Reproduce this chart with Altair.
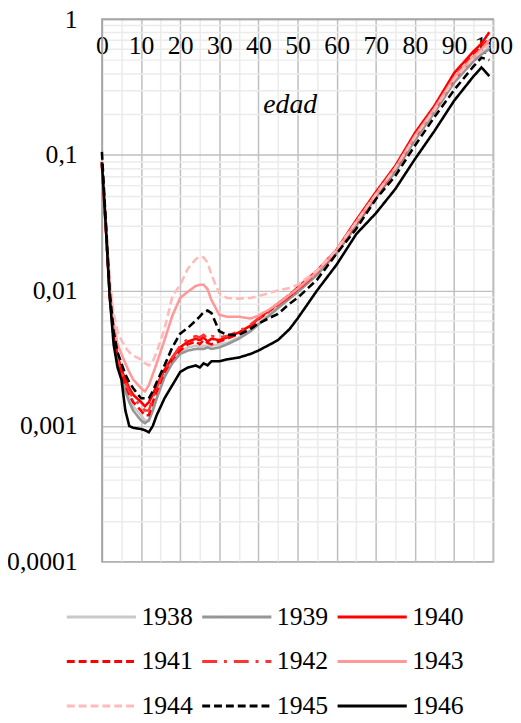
import altair as alt
import pandas as pd

ages = [0, 1, 2, 3, 4, 5, 6, 7, 8, 10, 11, 12, 13, 14, 16, 18, 20, 22, 24, 25, 26, 27, 28,
        30, 32, 35, 38, 40, 43, 45, 48, 50, 55, 60, 65, 70, 75, 80, 85, 90, 95, 97, 99]

q1938 = [0.090, 0.031, 0.0098, 0.0048, 0.0031, 0.0024, 0.0019, 0.0016, 0.0014, 0.0012, 0.0011, 0.0011,
         0.0013, 0.0016, 0.0023, 0.0030, 0.0035, 0.0038, 0.0039, 0.0038, 0.0039, 0.0039, 0.0039,
         0.0040, 0.0041, 0.0045, 0.0051, 0.0057, 0.0067, 0.0075, 0.0088, 0.0098, 0.0132, 0.019,
         0.030, 0.049, 0.076, 0.130, 0.21, 0.35, 0.50, 0.56, 0.62]
q1939 = [0.087, 0.030, 0.0094, 0.0046, 0.0030, 0.0023, 0.0018, 0.0015, 0.0013, 0.0011, 0.00105, 0.0011,
         0.0013, 0.0016, 0.0023, 0.0029, 0.0034, 0.0036, 0.0037, 0.0037, 0.0037, 0.0038, 0.0037,
         0.0038, 0.0040, 0.0044, 0.0050, 0.0056, 0.0066, 0.0074, 0.0087, 0.0097, 0.0130, 0.0188,
         0.030, 0.048, 0.075, 0.128, 0.205, 0.34, 0.49, 0.55, 0.60]
q1940 = [0.088, 0.030, 0.0095, 0.0050, 0.0033, 0.0026, 0.0022, 0.0019, 0.0017, 0.0015, 0.0014, 0.0015,
         0.0017, 0.0020, 0.0026, 0.0032, 0.0038, 0.0042, 0.0044, 0.0043, 0.0045, 0.0042, 0.0044,
         0.0043, 0.0045, 0.0049, 0.0055, 0.0062, 0.0072, 0.0080, 0.0093, 0.0105, 0.0140, 0.020,
         0.033, 0.053, 0.083, 0.145, 0.23, 0.40, 0.58, 0.66, 0.80]
q1941 = [0.085, 0.029, 0.0090, 0.0045, 0.0030, 0.0024, 0.0020, 0.0017, 0.0015, 0.0013, 0.0012, 0.0012,
         0.0015, 0.0018, 0.0025, 0.0031, 0.0036, 0.0040, 0.0042, 0.0040, 0.0043, 0.0041, 0.0040,
         0.0042, 0.0044, 0.0048, 0.0054, 0.0061, 0.0071, 0.0079, 0.0091, 0.0102, 0.0138, 0.0195,
         0.032, 0.051, 0.080, 0.138, 0.22, 0.37, 0.55, 0.62, 0.72]
q1942 = [0.086, 0.029, 0.0092, 0.0047, 0.0031, 0.0025, 0.0021, 0.0018, 0.0016, 0.0014, 0.0013, 0.0013,
         0.0016, 0.0019, 0.0026, 0.0032, 0.0039, 0.0044, 0.0046, 0.0045, 0.0047, 0.0044, 0.0046,
         0.0045, 0.0046, 0.0050, 0.0056, 0.0062, 0.0071, 0.0078, 0.0090, 0.0100, 0.0135, 0.0195,
         0.031, 0.050, 0.078, 0.135, 0.215, 0.36, 0.53, 0.60, 0.68]
q1943 = [0.088, 0.032, 0.0110, 0.0058, 0.0040, 0.0034, 0.0029, 0.0025, 0.0022, 0.0019, 0.0018, 0.0020,
         0.0024, 0.0029, 0.0043, 0.0065, 0.0088, 0.0098, 0.0108, 0.0110, 0.0110, 0.0102, 0.0085,
         0.0066, 0.0064, 0.0064, 0.0062, 0.0065, 0.0073, 0.0080, 0.0093, 0.0103, 0.0138, 0.0198,
         0.032, 0.051, 0.080, 0.138, 0.22, 0.37, 0.53, 0.60, 0.70]
q1944 = [0.090, 0.033, 0.0120, 0.0068, 0.0050, 0.0043, 0.0038, 0.0035, 0.0033, 0.0031, 0.0029, 0.0028,
         0.0030, 0.0035, 0.0052, 0.0090, 0.0110, 0.0145, 0.0170, 0.0178, 0.0175, 0.0160, 0.0130,
         0.0095, 0.0088, 0.0087, 0.0088, 0.0091, 0.0096, 0.0100, 0.0104, 0.0110, 0.0140, 0.020,
         0.032, 0.051, 0.080, 0.135, 0.215, 0.36, 0.52, 0.58, 0.65]
q1945 = [0.105, 0.032, 0.0098, 0.0050, 0.0035, 0.0029, 0.0024, 0.0021, 0.0019, 0.0016, 0.0016, 0.0016,
         0.0018, 0.0021, 0.0028, 0.0038, 0.0048, 0.0053, 0.0060, 0.0064, 0.0069, 0.0071, 0.0068,
         0.0050, 0.0047, 0.0047, 0.0052, 0.0057, 0.0063, 0.0067, 0.0080, 0.0088, 0.0120, 0.0187,
         0.0285, 0.047, 0.070, 0.117, 0.19, 0.30, 0.45, 0.52, 0.50]
q1946 = [0.088, 0.030, 0.0090, 0.0040, 0.0027, 0.0022, 0.0013, 0.0010, 0.00097, 0.00095, 0.00093, 0.0009,
         0.0010, 0.0012, 0.0016, 0.0020, 0.0025, 0.0027, 0.0028, 0.0027, 0.0029, 0.0028, 0.0030,
         0.0030, 0.0031, 0.0032, 0.0034, 0.0036, 0.0040, 0.0043, 0.0052, 0.0062, 0.0100, 0.0155,
         0.026, 0.037, 0.056, 0.093, 0.15, 0.25, 0.38, 0.44, 0.38]

years = ["1938", "1939", "1940", "1941", "1942", "1943", "1944", "1945", "1946"]
series = [q1938, q1939, q1940, q1941, q1942, q1943, q1944, q1945, q1946]
colors = ["#C8C8C8", "#969696", "#FF0000", "#FF0000", "#FF3333", "#FF9999", "#FFBBBB", "#000000", "#000000"]
dashes = [[1, 0], [1, 0], [1, 0], [8, 4], [15, 7, 3, 7], [1, 0], [8, 4], [8, 4], [1, 0]]

x_major = [0, 10, 20, 30, 40, 50, 60, 70, 80, 90, 100]
x_minor = [5, 15, 25, 35, 45, 55, 65, 75, 85, 95]
y_major = [0.0001, 0.001, 0.01, 0.1, 1]
y_minor = [k * 10.0 ** d for d in (-4, -3, -2, -1) for k in range(2, 10)]

rows = []
for yr, vals in zip(years, series):
    for a, v in zip(ages, vals):
        rows.append({"edad": a, "q": v, "anio": yr})
df = pd.DataFrame(rows)

FONT = "'Liberation Serif', 'Times New Roman', serif"
FS = 26
x_scale = alt.Scale(domain=[0, 100], nice=False, zero=False)
y_scale = alt.Scale(type="log", domain=[0.0001, 1], nice=False)

leg = dict(title=None, orient="none", legendX=-37, legendY=592, columns=3, direction="horizontal",
           symbolType="stroke", symbolSize=4900, symbolStrokeWidth=3, clipHeight=26,
           labelFont=FONT, labelFontSize=FS, labelColor="#000000",
           labelOffset=4, columnPadding=8, rowPadding=19)

minor = alt.Chart(df).mark_line(strokeOpacity=0).encode(
    x=alt.X("edad:Q", scale=x_scale,
            axis=alt.Axis(values=x_minor, grid=True, gridColor="#EBEBEB", gridWidth=1.5,
                          labels=False, ticks=False, domain=False, title=None, orient="bottom")),
    y=alt.Y("q:Q", scale=y_scale,
            axis=alt.Axis(values=y_minor, grid=True, gridColor="#EBEBEB", gridWidth=1.5,
                          labels=False, ticks=False, domain=False, title=None, orient="right")),
    detail="anio:N",
)

lines = alt.Chart(df).mark_line(strokeWidth=2.6).encode(
    x=alt.X("edad:Q", scale=x_scale,
            axis=alt.Axis(values=x_major, orient="top", grid=True, gridColor="#BFBFBF", gridWidth=1.5,
                          ticks=False, domain=True, domainColor="#A6A6A6", domainWidth=1.5,
                          labelFont=FONT, labelFontSize=FS, labelColor="#000000",
                          labelPadding=-40, labelFlush=False, labelOverlap=False,
                          title="edad", titleFont=FONT, titleFontSize=28, titleFontStyle="italic",
                          titleFontWeight="normal", titleColor="#000000",
                          titleX=190, titleY=95, titleAlign="center", titleBaseline="alphabetic")),
    y=alt.Y("q:Q", scale=y_scale,
            axis=alt.Axis(values=y_major, orient="left", grid=True, gridColor="#BFBFBF", gridWidth=1.5,
                          ticks=False, domain=True, domainColor="#A6A6A6", domainWidth=1.5,
                          labelFont=FONT, labelFontSize=FS, labelColor="#000000", labelPadding=25,
                          labelExpr="replace(toString(datum.value), '.', ',')", title=None)),
    color=alt.Color("anio:N", sort=years, scale=alt.Scale(domain=years, range=colors),
                    legend=alt.Legend(**leg)),
    strokeDash=alt.StrokeDash("anio:N", sort=years, scale=alt.Scale(domain=years, range=dashes),
                              legend=alt.Legend(**leg)),
    order=alt.Order("anio:N"),
)

chart = alt.layer(minor, lines).resolve_axis(x="independent", y="independent").properties(
    width=396, height=549,
    padding={"left": 95, "top": 7, "right": 20, "bottom": 158},
    autosize=alt.AutoSizeParams(type="none"),
).configure_view(stroke="#A6A6A6", strokeWidth=1.5)

chart.save("out.html", embed_options={"renderer": "svg", "actions": False})
